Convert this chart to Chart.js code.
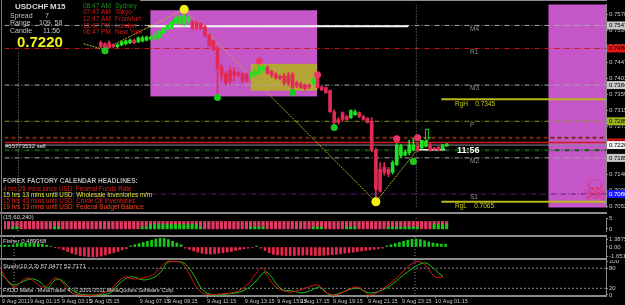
<!DOCTYPE html>
<html>
<head>
<meta charset="utf-8">
<script src="https://cdn.jsdelivr.net/npm/chart.js@4.4.1/dist/chart.umd.min.js"></script>
<style>
  html, body { margin: 0; padding: 0; background: #000; }
  #wrap { position: relative; width: 625px; height: 305px; overflow: hidden; background: #000; }
  canvas { position: absolute; left: 0; }
  .sep { position: absolute; left: 0; width: 607px; height: 2px; background: #8c8c8c; }
</style>
</head>
<body>
<div id="wrap">
  <canvas id="main" width="625" height="212" style="top:0"></canvas>
  <canvas id="dots" width="625" height="21" style="top:214px"></canvas>
  <canvas id="fisher" width="625" height="21" style="top:237px"></canvas>
  <canvas id="stoch" width="625" height="45" style="top:260px"></canvas>
  <div class="sep" style="top:212px"></div>
  <div class="sep" style="top:235px"></div>
  <div class="sep" style="top:258px"></div>
  <div style="position:absolute;left:140px;top:0;width:467px;height:1px;background:#8c8c8c"></div>
  <div style="position:absolute;left:1px;top:0;width:1px;height:297px;background:#7a7a7a"></div>
</div>
<script>
// bar index 0 is the left edge, the first visible candle is bar 23
const firstBar = 23;
const openP = [
  .7500,.7497,.7500,.7494,.7489,.7494,.7497,.7500,.7507,.7502,
  .7505,.7507,.7510,.7510,.7513,.7526,.7536,.7539,.7552,.7554,
  .7549,.7557,.7557,.7552,.7552,.7544,.7521,.7505,.7486,.7434,
  .7416,.7424,.7421,.7418,.7414,.7414,.7408,.7411,.7416,.7426,
  .7431,.7421,.7414,.7408,.7408,.7411,.7414,.7390,.7387,.7384,
  .7384,.7387,.7405,.7379,.7377,.7369,.7311,.7290,.7309,.7298,
  .7295,.7303,.7309,.7298,.7293,.7285,.7206,.7154,.7159,.7154,
  .7146,.7167,.7191,.7193,.7199,.7206,.7217,.7212,.7217,.7220,
  .7212,.7214,.7209,.7217];
const highP = [
  .7505,.7500,.7505,.7497,.7497,.7505,.7507,.7510,.7510,.7515,
  .7518,.7518,.7518,.7526,.7534,.7541,.7549,.7560,.7570,.7573,
  .7591,.7573,.7560,.7560,.7554,.7547,.7523,.7507,.7489,.7442,
  .7421,.7434,.7431,.7421,.7418,.7416,.7421,.7426,.7445,.7439,
  .7437,.7424,.7418,.7411,.7416,.7418,.7418,.7395,.7392,.7387,
  .7387,.7405,.7408,.7382,.7379,.7371,.7316,.7295,.7311,.7301,
  .7316,.7316,.7311,.7301,.7295,.7295,.7212,.7172,.7172,.7159,
  .7177,.7225,.7222,.7206,.7233,.7238,.7227,.7233,.7233,.7225,
  .7214,.7217,.7222,.7225];
const lowP = [
  .7486,.7484,.7484,.7486,.7486,.7492,.7494,.7497,.7497,.7500,
  .7502,.7505,.7507,.7507,.7510,.7523,.7534,.7536,.7549,.7552,
  .7547,.7554,.7536,.7534,.7536,.7515,.7489,.7478,.7356,.7395,
  .7384,.7387,.7395,.7405,.7390,.7392,.7403,.7408,.7414,.7421,
  .7414,.7405,.7400,.7398,.7384,.7382,.7371,.7377,.7374,.7371,
  .7374,.7384,.7374,.7369,.7361,.7309,.7277,.7277,.7285,.7288,
  .7293,.7301,.7295,.7288,.7280,.7201,.7065,.7091,.7138,.7133,
  .7141,.7164,.7185,.7191,.7193,.7204,.7201,.7209,.7214,.7204,
  .7206,.7204,.7206,.7217];
const closeP = [
  .7489,.7486,.7486,.7489,.7494,.7502,.7505,.7507,.7500,.7513,
  .7513,.7515,.7515,.7523,.7531,.7539,.7547,.7557,.7568,.7573,
  .7573,.7570,.7539,.7541,.7539,.7518,.7492,.7481,.7429,.7408,
  .7390,.7395,.7411,.7411,.7395,.7395,.7416,.7421,.7434,.7434,
  .7416,.7411,.7403,.7403,.7390,.7390,.7377,.7382,.7377,.7374,
  .7379,.7400,.7377,.7371,.7363,.7311,.7282,.7282,.7290,.7290,
  .7314,.7311,.7298,.7290,.7282,.7206,.7099,.7094,.7146,.7141,
  .7172,.7220,.7217,.7201,.7220,.7220,.7206,.7233,.7230,.7206,
  .7209,.7206,.7220,.7222];

const upBar = [61, 75, 94, 99];
const upPrice = [.7450, .7412, .7237, .7240];
const downBar = [24, 51, 69, 79, 98];
const downPrice = [.7478, .7350, .7364, .7268, .7175];
const zigzagBar = [18.9, 23.7, 43, 89, 98.7];
const zigzagPrice = [.7497, .7481, .7591, .7065, .7204];
const pivotBar = [43, 89];
const pivotPrice = [.7591, .7065];

const priceTicks = [.7578, .7534, .7490, .7447, .7403, .7359, .7315, .7271, .7227, .7183, .7140, .7096, .7052];
const priceMax = 0.76042, priceMin = 0.70494;

const lvM4 = .7547, lvR1 = .7484, lvM3 = .7384, lvRgH = .7345, lvP = .7285, lvBrown = .7240;
const lvRed = .7227, lvOrder = .7220, lvGreen = .7206, lvM2 = .7185, lvS1 = .7086, lvRgL = .7065;

// session boxes: from bar, to bar, high, low
const boxFrom = [34.9, 58.95, 130.4];
const boxTo = [74.9, 74.9, 144.2];
const boxHigh = [.75885, .74420, .76042];
const boxLow = [.73530, .73687, .70494];

const nBars = 107;
const row2Green = [[35, 46], [103, 106]];
const row3Green = [[2, 3], [12, 13], [33, 47], [59, 62], [74, 76], [82, 84], [92, 99], [103, 106]];
const rowLevel = [3, 1.8, 0.6];

const fisher = [
  0.3, 0.3, 0.3, 0.4,
  0.6, 0.7, 0.7, 0.7, 0.65, 0.6, 0.5,
  0.3, 0.1, -0.05,
  -0.2, -0.5, -0.8, -1.1, -1.3, -1.5, -1.6, -1.7, -1.75, -1.7, -1.6, -1.4, -1.2, -1.0, -0.8, -0.5, -0.3,
  0.2, 0.4, 0.6, 0.8, 1.0, 1.2, 1.4, 1.55, 1.5, 1.3, 1.0, 0.7, 0.4,
  -0.2, -0.4, -0.7, -0.9, -1.1, -1.2, -1.25, -1.2, -1.1, -1.0, -0.9, -0.8, -0.6, -0.5, -0.3, -0.2, -0.1,
  0.15, -0.2,
  -0.6, -1.0, -1.3, -1.4, -1.45, -1.5, -1.5, -1.5, -1.45, -1.45, -1.4, -1.45, -1.5, -1.5,
  -1.45, -1.4, -1.35, -1.3, -1.2, -1.1, -1.0, -0.9, -0.8, -0.7, -0.6, -0.5, -0.4, -0.3, -0.2,
  0.2, 0.4, 0.6, 0.8, 1.0, 1.2, 1.35, 1.4, 1.3, 1.1, 0.9, 0.7, 0.6, 0.5, 0.5];

const stochMainBar = [0, 1.8, 3.5, 5.1, 6.6, 8.2, 9.9, 11.3, 13, 14.7, 16.6, 19, 22.5, 26.1, 28, 29.7, 31.6, 34, 36.3, 38, 39.7, 41.1, 43.2, 45.1, 46.8, 48.7, 52.3, 55.9, 58.7, 60.6, 62.3, 64.2, 65.9, 69, 71.3, 74.2, 75.6, 77.3, 79.7, 84.9, 88, 92, 95.1, 98.2, 100.6, 103.5, 105.4];
const stochMain = [81, 39, 24, 42, 51, 39, 24, 30, 51, 39, 9, 0, 0, 15, 39, 54, 48, 51, 60, 81, 100, 100, 96, 60, 21, 3, 3, 9, 30, 60, 81, 45, 21, 9, 15, 27, 30, 9, 0, 24, 0, 27, 60, 96, 96, 54, 54];
const stochSigBar = [0, 1.6, 3, 4.7, 6.3, 7.8, 9.4, 11.3, 12.5, 13.7, 15.4, 17, 19, 21.3, 23.7, 26.1, 28, 30.1, 31.6, 34, 36.3, 38, 39.7, 41.1, 43.2, 44.7, 46.3, 48.2, 50.6, 54, 57, 59.4, 61.1, 63, 64.2, 65.9, 67.3, 69.7, 71.8, 74.2, 76.1, 78.5, 80.9, 84.9, 88, 92, 95.1, 98.7, 101.1, 103, 105.4];
const stochSig = [66, 45, 30, 36, 45, 48, 39, 21, 39, 48, 36, 15, 3, 0, 0, 6, 30, 51, 54, 45, 51, 66, 96, 100, 98, 84, 54, 15, 0, 3, 9, 24, 45, 69, 60, 30, 15, 12, 6, 15, 24, 0, 6, 21, 6, 21, 51, 84, 96, 81, 54];

const timeBars = [0.4, 7.05, 14.67, 21.33, 33.2, 39.9, 49.2, 58.2, 65.9, 71.3, 79.2, 87.5, 95.6, 103.5];
const timeLabels = ['9 Aug 2011', '9 Aug 01:15', '9 Aug 03:15', '9 Aug 05:15', '9 Aug 07:15', '9 Aug 09:15', '9 Aug 11:15',
  '9 Aug 13:15', '9 Aug 15:15', '9 Aug 17:15', '9 Aug 19:15', '9 Aug 21:15', '9 Aug 23:15', '10 Aug 01:15'];

const separatorBars = [3.24, 98.7];

// ---------- helpers ----------
const F = '"Liberation Sans", Arial, sans-serif';
const bull = '#22e022', bear = '#e22a56';
const xMin = -0.1, xMax = 144.2;

function txt(ctx, s, x, y, color, size, bold) {
  ctx.font = (bold ? 'bold ' : '') + size + 'px ' + F;
  ctx.fillStyle = color;
  ctx.fillText(s, x, y);
}

function hiddenX() {
  return { type: 'linear', min: xMin, max: xMax, display: false, offset: false };
}

function rightAxis(min, max, ticks, fmt) {
  return {
    position: 'right', min: min, max: max,
    afterBuildTicks: s => { s.ticks = ticks.map(v => ({ value: v })); },
    afterFit: s => { s.width = 19; s.paddingTop = 0; s.paddingBottom = 0; },
    ticks: { autoSkip: false, color: '#c8c8c8', font: { family: F, size: 6 }, padding: 1, callback: fmt },
    grid: { drawOnChartArea: false, tickLength: 2, color: '#8c8c8c' },
    border: { color: '#8c8c8c' }
  };
}

function hline(price, color, dash, width, from, to) {
  return {
    type: 'line', data: [{ x: from ?? xMin, y: price }, { x: to ?? xMax, y: price }],
    borderColor: color, borderWidth: width, borderDash: dash, pointRadius: 0, order: 10
  };
}

function vline(bar, top, bottom) {
  return {
    type: 'line', data: [{ x: bar, y: top }, { x: bar, y: bottom }],
    borderColor: '#8a8a8a', borderWidth: 1, borderDash: [1, 2], pointRadius: 0, order: 9
  };
}

function dots(bars, prices, color, r) {
  return {
    type: 'line', data: bars.map((b, i) => ({ x: b, y: prices[i] })), showLine: false,
    pointRadius: r, pointBackgroundColor: color, pointBorderWidth: 0, pointHoverRadius: r, order: 1
  };
}

const baseOptions = {
  responsive: false, animation: false, devicePixelRatio: 1,
  layout: { padding: 0 },
  plugins: { legend: { display: false }, tooltip: { enabled: false } },
  events: []
};

const dashDot = [5, 2, 1, 2];

// ---------- main price chart ----------
const candleColor = openP.map((o, i) => closeP[i] >= o ? bull : bear);
const wicks = openP.map((_, i) => ({ x: firstBar + i, y: [lowP[i], highP[i]] }));
const bodies = openP.map((o, i) => ({ x: firstBar + i, y: [o, closeP[i]] }));

const mainDecor = {
  id: 'mainDecor',
  beforeDatasetsDraw(chart) {
    const { ctx, scales: { x, y } } = chart;
    const colors = ['#c556c8', '#b5a535', '#c556c8'];
    ctx.save();
    boxFrom.forEach((b, i) => {
      const x1 = x.getPixelForValue(b), x2 = x.getPixelForValue(boxTo[i]);
      const y1 = y.getPixelForValue(boxHigh[i]), y2 = y.getPixelForValue(boxLow[i]);
      ctx.fillStyle = colors[i];
      ctx.fillRect(x1, y1, x2 - x1, y2 - y1);
    });
    ctx.restore();
  },
  afterDraw(chart) {
    const { ctx, scales: { y } } = chart;
    ctx.save();
    ctx.textBaseline = 'middle';

    // level names
    [['M4', lvM4], ['R1', lvR1], ['M3', lvM3], ['P', lvP], ['M2', lvM2], ['S1', lvS1]].forEach(([n, p]) => {
      txt(ctx, n, 470, y.getPixelForValue(p) + 3.5, '#8c8c8c', 6.5);
    });
    txt(ctx, 'RgH    ' + lvRgH.toFixed(4), 455, y.getPixelForValue(lvRgH) + 4.5, '#c8c81e', 6.5);
    txt(ctx, 'RgL    ' + lvRgL.toFixed(4), 455, y.getPixelForValue(lvRgL) + 4.5, '#c8c81e', 6.5);
    txt(ctx, '#65773532 sell', 5, y.getPixelForValue(lvOrder) + 1.5, '#e0e0e0', 6);
    txt(ctx, '11:56', 457, 151, '#ffffff', 9, true);

    // tags on the price axis
    [[lvM4, '#c8c8c8'], [lvR1, '#e01818'], [lvM3, '#c8c8c8'], [lvP, '#9ab41e'],
     [lvRed, '#e01818'], [lvOrder, '#f0f0f0'], [lvM2, '#c8c8c8'], [lvS1, '#1a1aff']].forEach(([p, c]) => {
      const py = y.getPixelForValue(p);
      ctx.fillStyle = c;
      ctx.fillRect(607, py - 4, 18, 8);
      txt(ctx, p.toFixed(5), 609, py, c === '#1a1aff' ? '#ffffff' : '#000000', 6);
    });

    // info block
    txt(ctx, 'USDCHF', 15, 7, '#d8d8d8', 8, true);
    txt(ctx, 'M15', 50, 7, '#d8d8d8', 8, true);
    txt(ctx, 'Spread', 10, 16, '#c0c0c0', 7);
    txt(ctx, '7', 45, 16, '#c0c0c0', 7);
    txt(ctx, 'Range', 10, 23.5, '#c0c0c0', 7);
    txt(ctx, '109, 58', 39, 23.5, '#c0c0c0', 7);
    txt(ctx, 'Candle', 10, 31, '#c0c0c0', 7);
    txt(ctx, '11:56', 43, 31, '#c0c0c0', 7);
    txt(ctx, '0.7220', 17, 42.5, '#f2f21a', 15, true);

    const sess = [['08:47 AM', 'Sydney'], ['07:47 AM', 'Tokyo'], ['12:47 AM', 'Frankfurt'], ['11:47 PM', 'London'], ['06:47 PM', 'New York']];
    sess.forEach(([t, n], i) => {
      const c = i === 0 ? '#1e8c1e' : '#d41a1a';
      txt(ctx, t, 83, 6 + i * 6.6, c, 6.5);
      txt(ctx, n, 115, 6 + i * 6.6, c, 6.5);
    });

    // calendar headlines
    txt(ctx, 'FOREX FACTORY CALENDAR HEADLINES:', 3, 181, '#b8b8b8', 6.5, true);
    txt(ctx, '4 hrs 28 mins since USD: Federal Funds Rate', 3, 189, '#e02020', 6.3);
    txt(ctx, '15 hrs 13 mins until USD: Wholesale Inventories m/m', 3, 195, '#e8e820', 6.3);
    txt(ctx, '15 hrs 43 mins until USD: Crude Oil Inventories', 3, 201, '#e02020', 6.3);
    txt(ctx, '19 hrs 13 mins until USD: Federal Budget Balance', 3, 207, '#ff4418', 6.3);

    // arrow and skull marks
    ctx.textAlign = 'center';
    ctx.font = '17px "DejaVu Sans"';
    ctx.fillStyle = '#22d822';
    ctx.fillText('\u21E9', 427, 137);
    ctx.font = '28px "DejaVu Sans"';
    ctx.fillStyle = '#e0306a';
    ctx.fillText('\u2620', 595, 193);
    ctx.restore();
  }
};

new Chart(document.getElementById('main'), {
  type: 'bar',
  data: {
    datasets: [
      dots(upBar, upPrice, '#e8366a', 3.5),
      dots(downBar, downPrice, '#1ec81e', 3.5),
      dots(pivotBar, pivotPrice, '#f0f018', 4.5),
      { type: 'bar', data: bodies, backgroundColor: candleColor, barThickness: 3, grouped: false, order: 3 },
      { type: 'bar', data: wicks, backgroundColor: candleColor, barThickness: 1, grouped: false, order: 4 },
      {
        type: 'line', data: zigzagBar.map((b, i) => ({ x: b, y: zigzagPrice[i] })),
        borderColor: '#b4b428', borderWidth: 1, borderDash: [2, 1], pointRadius: 0, order: 5
      },
      hline(.7207, '#f4f4f4', [], 1.5, 99.2, 105.6),
      hline(.7545, '#f4f4f4', [], 2, 34.4, 96.8),
      hline(lvM4, '#a8a8a8', dashDot, 1),
      hline(lvR1, '#cc1616', dashDot, 1),
      hline(lvM3, '#a8a8a8', dashDot, 1),
      hline(lvRgH, '#b8b81a', [], 2, 104.7),
      hline(lvP, '#8a9a1a', dashDot, 1),
      hline(lvBrown, '#7a2a12', [4, 3], 2),
      hline(lvRed, '#d01c1c', [], 1.5),
      hline(lvOrder, '#8a8a9a', [], 1),
      hline(lvGreen, '#0e5a0e', dashDot, 2),
      hline(lvM2, '#a8a8a8', dashDot, 1),
      hline(lvS1, '#1a1ae8', dashDot, 1, xMin, 35),
      hline(lvS1, '#5a1e7a', dashDot, 1, 35),
      hline(lvRgL, '#b8b81a', [], 2, 104.7),
      vline(separatorBars[0], .7473, priceMin),
      vline(separatorBars[1], priceMax, priceMin)
    ]
  },
  options: {
    ...baseOptions,
    scales: { x: hiddenX(), y: rightAxis(priceMin, priceMax, priceTicks, v => v.toFixed(5)) }
  },
  plugins: [mainDecor]
});

// ---------- signal squares panel ----------
function inRanges(k, ranges) {
  return ranges.some(([a, b]) => k >= a && k <= b);
}
const cols = Array.from({ length: nBars }, (_, k) => k);
const rowGreens = [[], row2Green, row3Green];

new Chart(document.getElementById('dots'), {
  type: 'line',
  data: {
    datasets: rowLevel.map((lv, r) => ({
      data: cols.map(k => ({ x: k, y: lv })), showLine: false, pointStyle: 'rect',
      pointRadius: 2.2, pointBorderWidth: 0,
      pointBackgroundColor: cols.map(k => inRanges(k, rowGreens[r]) ? '#1ec81e' : '#e23a66')
    })).concat(separatorBars.map(b => vline(b, 5.25, -1)))
  },
  options: {
    ...baseOptions,
    scales: { x: hiddenX(), y: rightAxis(-1, 5.25, [5, 0], v => String(v)) }
  },
  plugins: [{
    id: 'dotsLabel',
    afterDraw(chart) {
      const ctx = chart.ctx;
      ctx.save(); ctx.textBaseline = 'middle';
      txt(ctx, '(15,60,240)', 3, 3.5, '#d8d8d8', 6);
      ctx.restore();
    }
  }]
});

// ---------- fisher panel ----------
new Chart(document.getElementById('fisher'), {
  type: 'bar',
  data: {
    datasets: [
      {
        data: fisher.map((v, k) => ({ x: k, y: v })), barThickness: 2, grouped: false,
        backgroundColor: fisher.map(v => v >= 0 ? '#18c818' : '#e8284a'), order: 2
      }
    ].concat(separatorBars.map(b => vline(b, 1.754, -1.93)))
  },
  options: {
    ...baseOptions,
    scales: {
      x: hiddenX(),
      y: rightAxis(-1.93, 1.754, [1.3875, 0, -1.65159], (v, i) => ['1.38750', '0.00', '-1.65159'][i])
    }
  },
  plugins: [{
    id: 'fisherLabel',
    afterDraw(chart) {
      const ctx = chart.ctx;
      ctx.save(); ctx.textBaseline = 'middle';
      txt(ctx, 'Fisher 0.489968', 3, 4.7, '#d8d8d8', 6);
      ctx.restore();
    }
  }]
});

// ---------- stochastic panel with time axis ----------
new Chart(document.getElementById('stoch'), {
  type: 'line',
  data: {
    datasets: [
      {
        data: stochMainBar.map((b, i) => ({ x: b, y: stochMain[i] })),
        borderColor: '#d81818', borderWidth: 1, pointRadius: 0, tension: 0.35, order: 1
      },
      {
        data: stochSigBar.map((b, i) => ({ x: b, y: stochSig[i] })),
        borderColor: '#18c018', borderWidth: 1, pointRadius: 0, tension: 0.35, order: 2
      },
      hline(80, '#8a8a8a', [2, 2], 1),
      hline(20, '#8a8a8a', [2, 2], 1)
    ].concat(separatorBars.map(b => vline(b, 104.5, -3)))
  },
  options: {
    ...baseOptions,
    scales: {
      x: {
        type: 'linear', min: xMin, max: xMax, offset: false,
        afterBuildTicks: s => { s.ticks = timeBars.map(v => ({ value: v })); },
        afterFit: s => { s.height = 9; s.paddingLeft = 0; s.paddingRight = 0; },
        ticks: {
          autoSkip: false, maxRotation: 0, align: 'start', padding: 0, color: '#c8c8c8',
          font: { family: F, size: 5.5 }, callback: (v, i) => timeLabels[i]
        },
        grid: { drawOnChartArea: false, tickLength: 2, color: '#8c8c8c' },
        border: { color: '#8c8c8c', width: 2 }
      },
      y: rightAxis(-3, 104.5, [100, 80, 20, 0], v => String(v))
    }
  },
  plugins: [{
    id: 'stochLabel',
    afterDraw(chart) {
      const ctx = chart.ctx;
      ctx.save(); ctx.textBaseline = 'middle';
      txt(ctx, 'Stoch(10,3,3) 57.0477 52.7171', 3, 6.7, '#d8d8d8', 6);
      txt(ctx, 'FXDD Malta - MetaTrader 4, \u00A9 2001-2011 MetaQuotes Software Corp.', 3, 30.7, '#d8d8d8', 5.5);
      ctx.restore();
    }
  }]
});
</script>
</body>
</html>
